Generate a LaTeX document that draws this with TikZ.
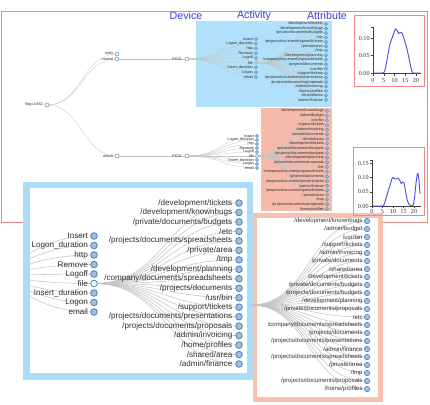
\documentclass[tikz,border=0pt]{standalone}
\usepackage{fontspec}
\setmainfont{Liberation Sans}
\newfontfamily\chartfont{Liberation Serif}
\pgfdeclarelayer{back}
\pgfdeclarelayer{links}
\pgfsetlayers{back,links,main}
\definecolor{steel}{RGB}{70,130,180}
\definecolor{lsteel}{RGB}{160,190,230}
\definecolor{edgegray}{RGB}{196,196,196}
\definecolor{salmonline}{RGB}{240,135,135}
\definecolor{hdrblue}{RGB}{55,65,210}
\definecolor{skyfill}{RGB}{176,224,250}
\definecolor{redfill}{RGB}{246,186,170}
\definecolor{bluepanel}{RGB}{170,220,246}
\definecolor{redpanel}{RGB}{248,192,176}
\definecolor{curveblue}{RGB}{75,75,225}
\definecolor{txt}{RGB}{50,50,50}
\newcommand\dgedge[4][linkline]{\draw[#1] (#2.center) .. controls +(#4,0) and +(-#4,0) .. (#3.center);}
\begin{document}
\begin{tikzpicture}[x=1pt,y=-1pt,
  tnode/.style={circle,draw=steel,fill=lsteel,line width=0.35pt,minimum size=3.3pt,inner sep=0pt,outer sep=0pt},
  topen/.style={tnode,fill=white},
  rnode/.style={tnode,minimum size=4pt,line width=0.45pt,fill=white},
  tlbl/.style={font=\fontsize{3.8}{4}\selectfont,text=txt,inner sep=0pt},
  bnode/.style={circle,draw=steel,fill=lsteel,line width=0.8pt,minimum size=6.6pt,inner sep=0pt,outer sep=0pt},
  bopen/.style={bnode,fill=white},
  blbl/.style={font=\fontsize{8.1}{9}\selectfont,text=txt,inner sep=0pt},
  cnode/.style={circle,draw=steel,fill=lsteel,line width=0.6pt,minimum size=5.4pt,inner sep=0pt,outer sep=0pt},
  clbl/.style={font=\fontsize{6}{6.5}\selectfont,text=txt,inner sep=0pt},
  linkline/.style={draw=edgegray,line width=0.3pt},
  blink/.style={draw=edgegray,line width=0.55pt},
  hdr/.style={font=\fontsize{10.7}{12}\selectfont,text=hdrblue,inner sep=0pt},
  ticklbl/.style={font=\chartfont\fontsize{6.2}{7}\selectfont,text=black!80,inner sep=0pt},
  axisline/.style={draw=black!75,line width=0.4pt},
  curveline/.style={draw=curveblue,line width=0.9pt,line join=round},
  chartbox/.style={draw=salmonline,line width=0.7pt},
]
\useasboundingbox (0,0) rectangle (430,404);

% ---------- backgrounds ----------
\begin{pgfonlayer}{back}
  \fill[white] (0,0) rectangle (430,404);
  \draw[salmonline,line width=0.8pt] (1,11) rectangle (427,222);
  \fill[skyfill] (196,21) rectangle (332,107);
  \fill[redfill] (261,108) rectangle (332,211);
  \draw[bluepanel,line width=6.5pt,fill=white] (26.5,185.2) rectangle (250,376.5);
  \draw[redpanel,line width=4.5pt,fill=white] (255.2,215.5) rectangle (380.5,399.5);
\end{pgfonlayer}

% ---------- headers ----------
\node[hdr] (hdev) at (186,16) {Device};
\node[hdr] (hact) at (254,16) {Activity};
\node[hdr] (hatt) at (327,16) {Attribute};

% ---------- top tree ----------
\node[rnode,label={[tlbl,label distance=1.5pt]left:{flag=1/652}}] (root) at (47,105) {};
\node[rnode,label={[tlbl,label distance=1.5pt]left:daily}] (daily) at (117,54) {};
\node[rnode,label={[tlbl,label distance=1.5pt]left:normal}] (normal) at (117,59) {};
\node[rnode,label={[tlbl,label distance=1.5pt]left:attack}] (attack) at (117,156) {};
\node[rnode,label={[tlbl,label distance=3pt]left:PC01}] (pcA) at (187,59) {};
\node[rnode,label={[tlbl,label distance=3pt]left:PC01}] (pcB) at (187,156) {};

\foreach \t/\s [count=\i from 0] in {Insert/tnode,Logon\_duration/tnode,http/tnode,Remove/tnode,Logoff/tnode,file/topen,Insert\_duration/tnode,Logon/tnode,email/tnode}
  \node[\s,label={[tlbl,label distance=1.3pt]left:\t}] (aA\i) at (256,{39+4.75*\i}) {};
\foreach \t/\s [count=\i from 0] in {Insert/tnode,Logon\_duration/tnode,http/tnode,Remove/tnode,Logoff/tnode,file/topen,Insert\_duration/tnode,Logon/tnode,email/tnode}
  \node[\s,label={[tlbl,label distance=1.3pt]left:\t}] (aB\i) at (257,{136+4*\i}) {};

\foreach \t [count=\i from 0] in {/development/tickets,/development/knownbugs,/private/documents/budgets,/etc,/projects/documents/spreadsheets,/private/area,/tmp,/development/planning,/company/documents/spreadsheets,/projects/documents,/usr/bin,/support/tickets,/projects/documents/presentations,/projects/documents/proposals,/admin/invoicing,/home/profiles,/shared/area,/admin/finance}
  \node[tnode,label={[tlbl,label distance=1.3pt]left:\t}] (bA\i) at (326,{24+4.47*\i}) {};
\foreach \t [count=\i from 0] in {/development/knownbugs,/admin/budget,/usr/bin,/support/tickets,/admin/invoicing,/private/documents,/shared/area,/development/tickets,/private/documents/budgets,/projects/documents/budgets,/development/planning,/private/documents/proposals,/etc,/company/documents/spreadsheets,/projects/documents,/projects/documents/presentations,/admin/finance,/projects/documents/spreadsheets,/private/area,/tmp,/projects/documents/proposals,/home/profiles}
  \node[tnode,label={[tlbl,label distance=1.3pt]left:\t}] (bB\i) at (327,{111+4.67*\i}) {};

% ---------- bottom-left panel ----------
\coordinate (blp) at (-44,276);
\foreach \t/\s [count=\i from 0] in {Insert/bnode,Logon\_duration/bnode,http/bnode,Remove/bnode,Logoff/bnode,file/bopen,Insert\_duration/bnode,Logon/bnode,email/bnode}
  \node[\s,label={[blbl,label distance=2.6pt]left:\t}] (dA\i) at (94,{236+9.5*\i}) {};
\foreach \t [count=\i from 0] in {/development/tickets,/development/knownbugs,/private/documents/budgets,/etc,/projects/documents/spreadsheets,/private/area,/tmp,/development/planning,/company/documents/spreadsheets,/projects/documents,/usr/bin,/support/tickets,/projects/documents/presentations,/projects/documents/proposals,/admin/invoicing,/home/profiles,/shared/area,/admin/finance}
  \node[bnode,label={[blbl,label distance=3.2pt]left:\t}] (eA\i) at (239,{203+9.47*\i}) {};

% ---------- bottom-right panel ----------
\coordinate (brp) at (251,305);
\foreach \t [count=\i from 0] in {/development/knownbugs,/admin/budget,/usr/bin,/support/tickets,/admin/invoicing,/private/documents,/shared/area,/development/tickets,/private/documents/budgets,/projects/documents/budgets,/development/planning,/private/documents/proposals,/etc,/company/documents/spreadsheets,/projects/documents,/projects/documents/presentations,/admin/finance,/projects/documents/spreadsheets,/private/area,/tmp,/projects/documents/proposals,/home/profiles}
  \node[cnode,label={[clbl,label distance=1.6pt]left:\t}] (fA\i) at (367,{221+8*\i}) {};

% ---------- links ----------
\begin{pgfonlayer}{links}
  \dgedge{root}{daily}{35}
  \dgedge{root}{normal}{35}
  \dgedge{root}{attack}{35}
  \draw[linkline] (normal) -- (pcA);
  \draw[linkline] (attack) -- (pcB);
  \foreach \i in {0,...,8} {\dgedge{pcA}{aA\i}{34.5}}
  \foreach \i in {0,...,8} {\dgedge{pcB}{aB\i}{35}}
  \foreach \i in {0,...,17} {\dgedge{aA5}{bA\i}{35}}
  \foreach \i in {0,...,21} {\dgedge{aB5}{bB\i}{35}}
  \begin{scope}
    \clip (30,188) rectangle (247,373);
    \foreach \i in {0,...,8} {\dgedge[blink]{blp}{dA\i}{69}}
  \end{scope}
  \foreach \i in {0,...,17} {\dgedge[blink]{dA5}{eA\i}{72.5}}
  \foreach \i in {0,...,21} {\dgedge[blink]{brp}{fA\i}{58}}
\end{pgfonlayer}

% ---------- chart 1 ----------
\draw[chartbox] (354,15) rectangle (424,86);
\draw[axisline] (371,27) -- (373,27) -- (373,73) -- (421,73);
\foreach \v/\y [count=\k from 0] in {0.00/73,0.05/55.5,0.10/38} {
  \draw[axisline] (370.5,\y) -- (373,\y);
  \node[ticklbl,anchor=east] (cay\k) at (369.8,\y) {\v};
}
\foreach \v [count=\k from 0] in {0,5,10,15,20} {
  \draw[axisline] ({373+2.15*\v},73) -- ({373+2.15*\v},75.5);
  \node[ticklbl] (cax\k) at ({373+2.15*\v},80) {\v};
}
\draw[curveline] plot[smooth,tension=0.5] coordinates {(373,73) (382.7,73) (384.4,72) (385.9,66) (388.05,53.75) (390.2,43.25) (392.35,37.3) (394.5,31) (395.8,28.9) (397.3,31) (398.8,33.45) (400.3,32.4) (401.8,32.75) (403.75,38) (405.9,45) (408.05,53.75) (410.2,64.25) (411.7,70.9) (413,73) (420.3,73)};

% ---------- chart 2 ----------
\draw[chartbox] (353,147) rectangle (424,215);
\draw[axisline] (370,160) -- (372,160) -- (372,206) -- (421,206);
\foreach \v/\y [count=\k from 0] in {0.00/206,0.05/191.7,0.10/177.4,0.15/163.1} {
  \draw[axisline] (369.5,\y) -- (372,\y);
  \node[ticklbl,anchor=east] (cby\k) at (368.8,\y) {\v};
}
\foreach \v [count=\k from 0] in {0,5,10,15,20} {
  \draw[axisline] ({372+2.1*\v},206) -- ({372+2.1*\v},208);
  \node[ticklbl] (cbx\k) at ({372+2.1*\v},211.5) {\v};
}
\draw[curveline] plot[smooth,tension=0.5] coordinates {(372,206) (382.5,206) (383.8,204.9) (385.65,199.7) (387.75,192.3) (389.85,186) (391.7,179.7) (393,177.4) (394.7,179.1) (396.4,178.8) (398,178) (399.7,180.3) (401.2,183.4) (402.7,182) (404.1,183.1) (405.6,191.7) (407.3,200.3) (409.4,204.9) (411.5,206) (413.2,205.1) (414.6,197) (416,183) (417.5,173.5) (418.6,177) (420,194)};

\end{tikzpicture}
\end{document}
